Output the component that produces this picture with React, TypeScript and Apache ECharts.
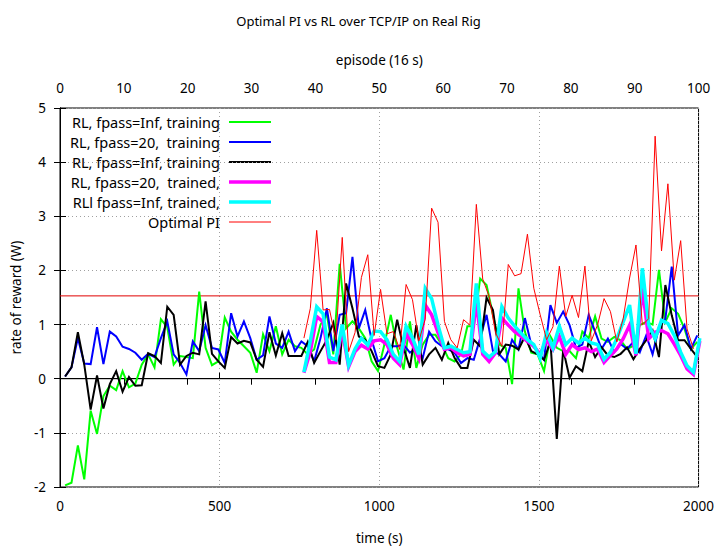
import React, { useEffect, useRef } from "react";
import * as echarts from "echarts";

const chartTitle = "Optimal PI vs RL over TCP/IP on Real Rig";
const xTitle = "time (s)";
const x2Title = "episode (16 s)";
const yTitle = "rate of reward (W)";

// series ids (unique) and the labels shown in the key
const seriesIds = [
  "green-training",
  "blue-training",
  "black-training",
  "magenta-trained",
  "cyan-trained",
  "optimal-pi",
];
const seriesLabels = [
  "RL, fpass=Inf, training",
  "RL, fpass=20,  training",
  "RL, fpass=Inf, training",
  "RL, fpass=20,  trained,",
  "RLl fpass=Inf, trained,",
  "Optimal PI",
];
const seriesColors = ["#00ff00", "#0000ff", "#000000", "#ff00ff", "#00ffff", "#ff0000"];
const seriesWidths = [2, 2, 2, 3.5, 3.5, 1];

// sampling of the recorded runs (s)
const RUN_START = 16;
const TRAINED_START = 764;
const STEP = 20;

const greenTraining = [
  -1.97, -1.92, -1.23, -1.86, -0.59, -1.02, -0.32, -0.13, -0.21, 0.14,
  -0.16, -0.09, 0.26, 0.45, 0.21, 1.1, 0.95, 0.26, 0.42, 0.4,
  0.38, 1.61, 0.57, 0.25, 0.32, 1.13, 0.87, 0.72, 0.6, 0.48,
  0.11, 0.82, 0.51, 0.97, 0.45, 0.72, 0.6, 0.57, 0.45, 0.54,
  1.0, 1.18, 0.45, 2.12, 0.93, 1.06, 0.93, 0.75, 0.32, 0.14,
  0.63, 1.18, 0.57, 0.17, 1.06, 0.2, 0.63, 0.81, 0.81, 0.63,
  0.38, 0.32, 0.45, 0.97, 0.97, 1.85, 1.73, 1.18, 0.63, 0.57,
  -0.1, 1.67, 0.87, 0.48, 0.45, 0.14, 0.78, 0.57, 0.51, 0.51,
  0.38, 0.87, 0.75, 1.15, 0.74, 0.68, 0.77, 0.71, 0.55, 0.61,
  0.99, 1.05, 1.0, 2.01, 1.05, 1.3, 1.2, 0.92, 0.55, 0.68,
];

const blueTraining = [
  0.04, 0.21, 0.75, 0.28, 0.27, 0.95, 0.27, 0.87, 0.78, 0.59,
  0.55, 0.48, 0.35, 0.46, 0.4, 0.75, 1.06, 0.45, 0.29, 0.08,
  0.69, 0.51, 0.99, 0.57, 0.54, 0.29, 1.21, 0.78, 1.06, 0.75,
  0.35, 0.43, 1.15, 0.65, 0.57, 0.87, 0.51, 0.69, 0.6, 0.32,
  0.75, 1.3, 0.51, 1.18, 1.21, 2.25, 0.93, 1.27, 0.72, 0.32,
  0.38, 0.6, 0.6, 0.63, 0.48, 0.57, 0.38, 0.87, 0.69, 0.6,
  0.54, 0.48, 0.29, 0.38, 0.35, 0.75, 1.18, 0.51, 0.45, 0.32,
  0.72, 0.54, 1.12, 0.63, 0.51, 0.35, 1.36, 1.03, 1.24, 0.99,
  0.57, 0.63, 1.18, 0.87, 0.55, 0.74, 0.49, 0.64, 0.55, 0.68,
  0.49, 0.8, 0.45, 0.95, 1.1, 2.07, 0.8, 0.99, 0.55, 0.8,
];

const blackTraining = [
  0.04, 0.21, 0.86, 0.26, -0.57, 0.06, -0.55, -0.1, 0.14, -0.24,
  0.03, -0.13, -0.12, 0.47, 0.42, 0.29, 1.33, 1.18, 0.26, 0.42,
  0.48, 0.45, 1.43, 0.46, 0.32, 0.2, 0.77, 0.65, 0.7, 0.67,
  0.35, 0.22, 0.86, 0.43, 0.84, 0.42, 0.42, 0.42, 0.68, 0.29,
  0.51, 0.72, 1.03, 0.26, 1.76, 1.3, 0.78, 0.72, 0.51, 0.23,
  0.2, 0.45, 1.09, 0.57, 0.2, 0.99, 0.26, 0.45, 0.57, 0.35,
  0.66, 0.38, 0.2, 0.2, 0.72, 0.6, 1.5, 1.27, 0.45, 0.63,
  0.61, 0.54, 0.78, 0.51, 0.45, 0.35, 0.69, -1.11, 0.54, 0.02,
  0.23, 0.14, 0.69, 0.4, 0.58, 0.43, 0.4, 0.46, 0.58, 0.36,
  0.55, 0.71, 0.89, 0.4, 1.73, 1.17, 0.71, 0.71, 0.55, 0.4,
];

const magentaTrained = [
  0.11, 0.5, 1.15, 1.05, 0.3, 0.3, 0.9, 0.22, 0.5, 0.62,
  0.55, 0.7, 0.72, 0.63, 0.38, 0.26, 0.84, 0.63, 0.38, 1.36,
  1.18, 0.85, 0.54, 0.57, 0.48, 0.42, 0.45, 1.42, 0.45, 0.32,
  0.48, 1.12, 0.99, 0.87, 0.78, 0.69, 0.6, 0.45, 0.72, 0.54,
  0.78, 0.45, 0.63, 0.54, 0.57, 0.5, 0.55, 0.3, 0.43, 0.55,
  0.74, 0.99, 0.43, 1.67, 0.74, 0.86, 0.89, 0.83, 0.64, 0.43,
  0.18, 0.08, 0.7,
];

const cyanTrained = [
  0.12, 0.7, 1.33, 1.2, 0.4, 0.35, 1.0, 0.25, 0.55, 0.75,
  0.62, 0.88, 0.87, 0.72, 0.45, 0.32, 0.97, 0.75, 0.45, 1.67,
  1.48, 0.99, 0.57, 0.6, 0.54, 0.48, 0.5, 1.76, 0.51, 0.4,
  0.5, 1.33, 1.12, 0.97, 0.84, 0.72, 0.63, 0.38, 0.85, 0.57,
  0.97, 0.63, 0.75, 0.66, 0.75, 0.66, 0.63, 0.36, 0.49, 0.74,
  1.05, 1.36, 0.46, 2.04, 0.99, 0.74, 1.08, 1.02, 0.8, 0.49,
  0.24, 0.12, 0.75,
];

const optimalPI = [
  0.75, 1.3, 2.74, 1.27, 1.28, 0.72, 2.61, 0.5, 0.85, 1.87,
  2.29, 0.8, 1.65, 0.83, 0.87, 0.54, 1.74, 1.46, 0.7, 1.1,
  3.15, 2.89, 1.06, 0.72, 0.57, 1.09, 0.99, 3.22, 1.84, 1.52,
  0.85, 0.6, 2.11, 1.9, 1.94, 2.67, 1.67, 1.18, 0.72, 0.96,
  2.08, 1.15, 1.54, 1.13, 2.08, 0.7, 1.0, 1.48, 1.24, 0.68,
  1.11, 1.86, 2.47, 0.99, 1.11, 4.48, 2.36, 3.6, 1.82, 2.55,
  0.92, 0.55,
];

const optimalPIMean = 1.53;

const FONT = "Noto Sans";

export default function App() {
  const ref = useRef<HTMLDivElement>(null);

  useEffect(() => {
    if (!ref.current) return;
    const chart = echarts.init(ref.current, null, { renderer: "svg" });
    const toPts = (vals: number[], t0: number) => vals.map((v, i) => [t0 + STEP * i, v]);
    const dataSets = [
      toPts(greenTraining, RUN_START),
      toPts(blueTraining, RUN_START),
      toPts(blackTraining, RUN_START),
      toPts(magentaTrained, TRAINED_START),
      toPts(cyanTrained, TRAINED_START),
      toPts(optimalPI, TRAINED_START),
    ];

    const dotted = { color: "#a0a0a0", width: 1, type: [1, 3] as number[] };
    const plain = (v: number) => String(v);

    // key drawn as text + line sample, text right-aligned against the sample
    const keyTextRight = 220;
    const keyLineX1 = 229;
    const keyLineX2 = 271;
    const keyRow0 = 122;
    const keyRowStep = 20;
    const keyElements: any[] = [];
    seriesLabels.forEach((label, i) => {
      const y = keyRow0 + keyRowStep * i;
      keyElements.push({
        type: "text",
        x: keyTextRight,
        y,
        style: {
          text: label,
          fill: "#000",
          font: `14.5px "${FONT}"`,
          align: "right",
          verticalAlign: "middle",
        },
        silent: true,
      });
      keyElements.push({
        type: "line",
        shape: { x1: keyLineX1, y1: y, x2: keyLineX2, y2: y },
        style: { stroke: seriesColors[i], lineWidth: seriesWidths[i] },
        silent: true,
      });
    });

    const option: any = {
      animation: false,
      backgroundColor: "#ffffff",
      textStyle: { fontFamily: FONT, color: "#000" },
      title: {
        text: chartTitle,
        left: "center",
        top: 9,
        textStyle: { fontFamily: FONT, fontSize: 13, fontWeight: "normal", color: "#000" },
      },
      graphic: { elements: keyElements },
      grid: {
        left: 60,
        right: 17,
        top: 108,
        bottom: 60,
        show: true,
        borderColor: "#000",
        borderWidth: 1,
        backgroundColor: "transparent",
      },
      xAxis: [
        {
          type: "value",
          position: "bottom",
          min: 0,
          max: 2000,
          interval: 500,
          name: xTitle,
          nameLocation: "middle",
          nameGap: 44,
          nameTextStyle: { fontFamily: FONT, fontSize: 13.5, color: "#000" },
          axisLine: { show: true, lineStyle: { color: "#000", width: 1 } },
          axisTick: { show: true, inside: true, length: 6, lineStyle: { color: "#000" } },
          axisLabel: { margin: 12, fontFamily: FONT, fontSize: 13.5, color: "#000", formatter: plain },
          splitLine: { show: true, lineStyle: dotted },
        },
        {
          type: "value",
          position: "top",
          min: 0,
          max: 100,
          interval: 10,
          name: x2Title,
          nameLocation: "middle",
          nameGap: 41,
          nameTextStyle: { fontFamily: FONT, fontSize: 13.5, color: "#000" },
          axisLine: { show: true, lineStyle: { color: "#000", width: 1 } },
          axisTick: { show: true, inside: true, length: 6, lineStyle: { color: "#000" } },
          axisLabel: { margin: 13, fontFamily: FONT, fontSize: 13.5, color: "#000", formatter: plain },
          splitLine: { show: false },
        },
      ],
      yAxis: [
        {
          type: "value",
          position: "left",
          min: -2,
          max: 5,
          interval: 1,
          name: yTitle,
          nameLocation: "middle",
          nameGap: 35,
          nameRotate: 90,
          nameTextStyle: { fontFamily: FONT, fontSize: 13.5, color: "#000" },
          axisLine: { show: true, lineStyle: { color: "#000", width: 1 } },
          axisTick: { show: true, inside: true, length: 6, lineStyle: { color: "#000" } },
          axisLabel: { margin: 14, fontFamily: FONT, fontSize: 13.5, color: "#000", formatter: plain },
          splitLine: { show: true, lineStyle: dotted },
        },
        {
          type: "value",
          position: "right",
          min: -2,
          max: 5,
          interval: 1,
          axisLine: { show: true, lineStyle: { color: "#000", width: 1 } },
          axisTick: { show: true, inside: true, length: 6, lineStyle: { color: "#000" } },
          axisLabel: { show: false },
          splitLine: { show: false },
        },
      ],
      series: [
        {
          name: "zero",
          type: "line",
          data: [[0, 0], [2000, 0]],
          symbol: "none",
          silent: true,
          z: 1,
          lineStyle: { color: "#000", width: 1 },
        },
        {
          name: "optimal-pi-mean",
          type: "line",
          data: [[0, optimalPIMean], [2000, optimalPIMean]],
          symbol: "none",
          silent: true,
          z: 1,
          lineStyle: { color: "#e00000", width: 1 },
        },
        ...seriesIds.map((id, i) => ({
          name: id,
          type: "line",
          data: dataSets[i],
          symbol: "none",
          showSymbol: false,
          clip: true,
          z: 2 + i,
          color: seriesColors[i],
          itemStyle: { color: seriesColors[i] },
          lineStyle: { color: seriesColors[i], width: seriesWidths[i], join: "miter" },
        })),
      ],
    };

    chart.setOption(option);
    return () => chart.dispose();
  }, []);

  return (
    <div
      ref={ref}
      style={{ position: "absolute", left: 0, top: 0, width: 717, height: 550, background: "#fff" }}
    />
  );
}
